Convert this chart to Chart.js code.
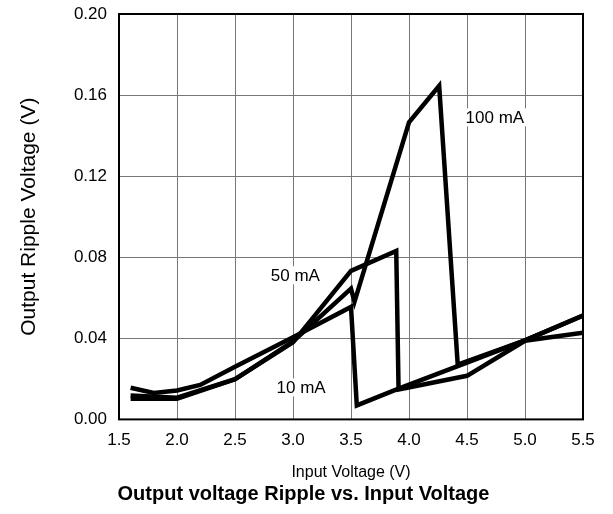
<!DOCTYPE html>
<html>
<head>
<meta charset="utf-8">
<script src="https://cdn.jsdelivr.net/npm/chart.js@4/dist/chart.umd.min.js"></script>
<style>
  html, body { margin: 0; padding: 0; background: #fff; }
  #wrap { width: 613px; height: 514px; }
</style>
</head>
<body>
<div id="wrap"><canvas id="chart"></canvas></div>
<script>
// --- values ---
const volts10 = [1.6, 1.8, 2.0, 2.2, 2.5, 3.0, 3.5, 3.55, 3.91, 4.5, 5.0, 5.5];
const ripple10 = [0.0156, 0.0130, 0.0143, 0.0170, 0.0260, 0.0405, 0.0555, 0.0069, 0.0152, 0.0280, 0.0390, 0.0512];

const volts50 = [1.6, 2.0, 2.5, 3.0, 3.5, 3.89, 3.91, 4.5, 5.0, 5.5];
const ripple50 = [0.0118, 0.0107, 0.0198, 0.0380, 0.0733, 0.0831, 0.0148, 0.0215, 0.0388, 0.0428];

const volts100 = [1.6, 2.0, 2.5, 3.0, 3.5, 3.53, 4.0, 4.26, 4.42, 5.0, 5.5];
const ripple100 = [0.0102, 0.0102, 0.0198, 0.0385, 0.0645, 0.0580, 0.1465, 0.1646, 0.0270, 0.0390, 0.0512];

const seriesNames = ["10 mA", "50 mA", "100 mA"];
// where each curve name sits (volts, volts of ripple)
const labelSpots = [[3.07, 0.0158], [3.02, 0.0711], [4.74, 0.149]];

const xTicks = [1.5, 2.0, 2.5, 3.0, 3.5, 4.0, 4.5, 5.0, 5.5];
const yTicks = [0.00, 0.04, 0.08, 0.12, 0.16, 0.20];

const FONT = "'Liberation Sans', Arial, Helvetica, sans-serif";

function toPoints(xs, ys) {
    return xs.map((x, i) => ({ x: x, y: ys[i] }));
}

const lineStyle = {
    showLine: true,
    borderColor: "#000",
    borderWidth: 4.5,
    borderJoinStyle: "miter",
    pointRadius: 0,
    pointHoverRadius: 0,
    fill: false,
    tension: 0
};

// curve names on a white patch, and the black frame round the plot
const decorations = {
    id: "decorations",
    afterLayout(chart) {
        // the caption sits a little right of the page centre
        if (chart.titleBlock) chart.titleBlock.left += 24;
    },
    afterDatasetsDraw(chart) {
        const { ctx, chartArea, scales } = chart;
        ctx.save();
        ctx.font = "17px " + FONT;
        ctx.textAlign = "center";
        ctx.textBaseline = "middle";
        seriesNames.forEach((name, i) => {
            const px = scales.x.getPixelForValue(labelSpots[i][0]);
            const py = scales.y.getPixelForValue(labelSpots[i][1]);
            const w = ctx.measureText(name).width;
            ctx.fillStyle = "#fff";
            ctx.fillRect(px - w / 2 - 2, py - 9, w + 4, 18);
            ctx.fillStyle = "#000";
            ctx.fillText(name, px, py + 1);
        });
        ctx.strokeStyle = "#000";
        ctx.lineWidth = 2;
        ctx.strokeRect(chartArea.left, chartArea.top,
            chartArea.right - chartArea.left, chartArea.bottom - chartArea.top);
        ctx.restore();
    }
};

new Chart(document.getElementById("chart"), {
    type: "scatter",
    data: {
        datasets: [
            Object.assign({ label: seriesNames[0], data: toPoints(volts10, ripple10) }, lineStyle),
            Object.assign({ label: seriesNames[1], data: toPoints(volts50, ripple50) }, lineStyle),
            Object.assign({ label: seriesNames[2], data: toPoints(volts100, ripple100) }, lineStyle)
        ]
    },
    options: {
        responsive: true,
        maintainAspectRatio: false,
        animation: false,
        events: [],
        layout: { padding: { left: 0, right: 30, top: 14, bottom: 0 } },
        plugins: {
            legend: { display: false },
            tooltip: { enabled: false },
            title: {
                display: true,
                position: "bottom",
                text: "Output voltage Ripple vs. Input Voltage",
                color: "#000",
                font: { family: FONT, size: 20, weight: "bold" },
                padding: { top: 0, bottom: 8 }
            }
        },
        scales: {
            x: {
                type: "linear",
                min: xTicks[0],
                max: xTicks[xTicks.length - 1],
                afterBuildTicks: (axis) => { axis.ticks = xTicks.map(v => ({ value: v })); },
                ticks: {
                    callback: (v) => Number(v).toFixed(1),
                    color: "#000",
                    font: { family: FONT, size: 17 },
                    padding: 11,
                    maxRotation: 0
                },
                grid: { color: "#777", lineWidth: 1, drawTicks: false },
                border: { display: false },
                title: {
                    display: true,
                    text: "Input Voltage (V)",
                    color: "#000",
                    font: { family: FONT, size: 16 },
                    padding: { top: 1, bottom: 0 }
                }
            },
            y: {
                type: "linear",
                min: yTicks[0],
                max: yTicks[yTicks.length - 1],
                afterBuildTicks: (axis) => { axis.ticks = yTicks.map(v => ({ value: v })); },
                afterFit: (axis) => {
                    axis.width = 119;
                    axis.paddingTop = 0;
                    axis.paddingBottom = 0;
                },
                ticks: {
                    callback: (v) => Number(v).toFixed(2),
                    color: "#000",
                    font: { family: FONT, size: 17 },
                    padding: 12
                },
                grid: { color: "#777", lineWidth: 1, drawTicks: false },
                border: { display: false },
                title: {
                    display: true,
                    text: "Output Ripple Voltage (V)",
                    color: "#000",
                    font: { family: FONT, size: 21 },
                    padding: { top: 17, bottom: 0 }
                }
            }
        }
    },
    plugins: [decorations]
});
</script>
</body>
</html>
